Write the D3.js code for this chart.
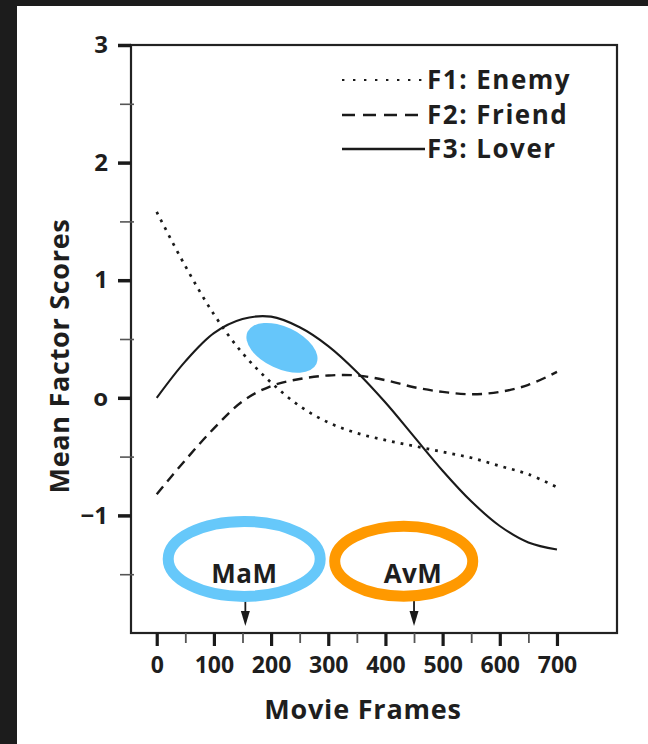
<!DOCTYPE html>
<html>
<head>
<meta charset="utf-8">
<script src="https://cdn.jsdelivr.net/npm/d3@7"></script>
<style>
  html, body { margin: 0; padding: 0; background: #1c1c1c; }
  svg { display: block; }
  text { font-family: "Open Sans", "Noto Sans", sans-serif; font-weight: 700; fill: #1e1e1e; }
</style>
</head>
<body>
<svg id="chart"></svg>
<script>
// movie frames sampled every 50
const frames = [0, 50, 100, 150, 200, 250, 300, 350, 400, 450, 500, 550, 600, 650, 700];
const enemy  = [1.58, 1.12, 0.71, 0.38, 0.13, -0.07, -0.21, -0.30, -0.36, -0.41, -0.46, -0.51, -0.58, -0.65, -0.76];
const friend = [-0.82, -0.53, -0.26, -0.03, 0.10, 0.16, 0.19, 0.19, 0.15, 0.09, 0.05, 0.03, 0.05, 0.11, 0.22];
const lover  = [0.0, 0.31, 0.55, 0.67, 0.69, 0.60, 0.44, 0.22, -0.04, -0.33, -0.62, -0.88, -1.09, -1.23, -1.29];

const seriesNames = ["F1: Enemy", "F2: Friend", "F3: Lover"];

const yMajor = [3, 2, 1, 0, -1];
const yLabels = ["3", "2", "1", "o", "\u22121"];
const yMinor = [2.5, 1.5, 0.5, -0.5, -1.5];
const xMajor = [0, 100, 200, 300, 400, 500, 600, 700];
const xMinor = [50, 150, 250, 350, 450, 550, 650];

const markerLabels = ["MaM", "AvM"];
const markerFrames = [155, 450];

const width = 648, height = 744;
const frame = { left: 131, right: 617, top: 45, bottom: 633 };
const ink = "#1a1a1a";

const svg = d3.select("#chart").attr("width", width).attr("height", height);

// white page on dark background
svg.append("rect").attr("x", 17).attr("y", 6)
  .attr("width", width - 17).attr("height", height - 6).attr("fill", "#fff");

const x = d3.scaleLinear().domain([-45, 805]).range([frame.left, frame.right]);
const y = d3.scaleLinear().domain([-2, 3]).range([frame.bottom, frame.top]);

// plot frame
svg.append("rect")
  .attr("x", frame.left).attr("y", frame.top)
  .attr("width", frame.right - frame.left).attr("height", frame.bottom - frame.top)
  .attr("fill", "none").attr("stroke", "#222").attr("stroke-width", 2.2);

// y axis
const yAxis = svg.append("g")
  .attr("transform", `translate(${frame.left},0)`)
  .call(d3.axisLeft(y).tickValues(yMajor).tickSize(13).tickPadding(10)
    .tickFormat((d, i) => yLabels[i]));
yAxis.select(".domain").remove();
yAxis.selectAll(".tick line").attr("stroke", ink).attr("stroke-width", 3.5);
yAxis.selectAll(".tick text").style("font-size", "24px").attr("fill", ink);

const yAxisMinor = svg.append("g")
  .attr("transform", `translate(${frame.left + 3},0)`)
  .call(d3.axisLeft(y).tickValues(yMinor).tickSize(14).tickFormat(""));
yAxisMinor.select(".domain").remove();
yAxisMinor.selectAll(".tick line").attr("stroke", "#555").attr("stroke-width", 1.6);

// x axis
const xAxis = svg.append("g")
  .attr("transform", `translate(0,${frame.bottom})`)
  .call(d3.axisBottom(x).tickValues(xMajor).tickSize(13).tickPadding(11));
xAxis.select(".domain").remove();
xAxis.selectAll(".tick line").attr("stroke", ink).attr("stroke-width", 3.2);
xAxis.selectAll(".tick text").style("font-size", "23px").attr("fill", ink);

const xAxisMinor = svg.append("g")
  .attr("transform", `translate(0,${frame.bottom})`)
  .call(d3.axisBottom(x).tickValues(xMinor).tickSize(10).tickFormat(""));
xAxisMinor.select(".domain").remove();
xAxisMinor.selectAll(".tick line").attr("stroke", "#555").attr("stroke-width", 1.8);

// axis titles
svg.append("text")
  .attr("x", 363).attr("y", 719)
  .attr("text-anchor", "middle")
  .style("font-size", "27px")
  .style("letter-spacing", "0.8px")
  .text("Movie Frames");

svg.append("text")
  .attr("transform", "translate(69,356) rotate(-90)")
  .attr("text-anchor", "middle")
  .style("font-size", "27px")
  .style("letter-spacing", "0.7px")
  .text("Mean Factor Scores");

// curves
const styles = [
  { dash: "2.8,6", w: 2.7 },
  { dash: "10,6.5", w: 2.4 },
  { dash: null, w: 2.1 },
];
const allSeries = [enemy, friend, lover];

const line = d3.line()
  .x((d, i) => x(frames[i]))
  .y(d => y(d))
  .curve(d3.curveCatmullRom.alpha(0.5));

allSeries.forEach((vals, k) => {
  svg.append("path")
    .datum(vals)
    .attr("d", line)
    .attr("fill", "none")
    .attr("stroke", ink)
    .attr("stroke-width", styles[k].w)
    .attr("stroke-dasharray", styles[k].dash);
});

// legend
const legendDash = ["2.4,8.6", "13,8", null];
const legendRows = [80, 115, 149];
seriesNames.forEach((name, k) => {
  const g = svg.append("g").attr("transform", `translate(0,${legendRows[k]})`);
  g.append("line")
    .attr("x1", 342).attr("x2", 425).attr("y1", 0).attr("y2", 0)
    .attr("stroke", ink).attr("stroke-width", k === 0 ? 2.2 : 2.4)
    .attr("stroke-dasharray", legendDash[k]);
  g.append("text")
    .attr("x", 427).attr("dy", "0.36em")
    .style("font-size", "26px")
    .style("letter-spacing", "1.5px")
    .text(name);
});

// marker labels and arrows
markerLabels.forEach((lab, k) => {
  const mx = x(markerFrames[k]);
  svg.append("text")
    .attr("x", mx - 1).attr("y", 583)
    .attr("text-anchor", "middle")
    .style("font-size", "26px")
    .style("letter-spacing", "0.5px")
    .text(lab);
  svg.append("line")
    .attr("x1", mx).attr("x2", mx).attr("y1", 601).attr("y2", 614)
    .attr("stroke", ink).attr("stroke-width", 1.8);
  svg.append("path")
    .attr("d", `M${mx - 4.5},${611} L${mx + 4.5},${611} L${mx},${626} Z`)
    .attr("fill", ink);
});

// highlight annotations
svg.append("ellipse")
  .attr("cx", x(219)).attr("cy", y(0.425))
  .attr("rx", 38).attr("ry", 21)
  .attr("transform", `rotate(25,${x(219)},${y(0.425)})`)
  .attr("fill", "#66c6fa");

const ringColors = ["#66c8fa", "#ff9900"];
const ringCenters = [[x(153), y(-1.37)], [x(432), y(-1.39)]];
const ringRadii = [[76, 37.5], [69, 35]];
ringCenters.forEach((c, k) => {
  svg.append("ellipse")
    .attr("cx", c[0]).attr("cy", c[1])
    .attr("rx", ringRadii[k][0]).attr("ry", ringRadii[k][1])
    .attr("fill", "none")
    .attr("stroke", ringColors[k])
    .attr("stroke-width", 11);
});
</script>
</body>
</html>
